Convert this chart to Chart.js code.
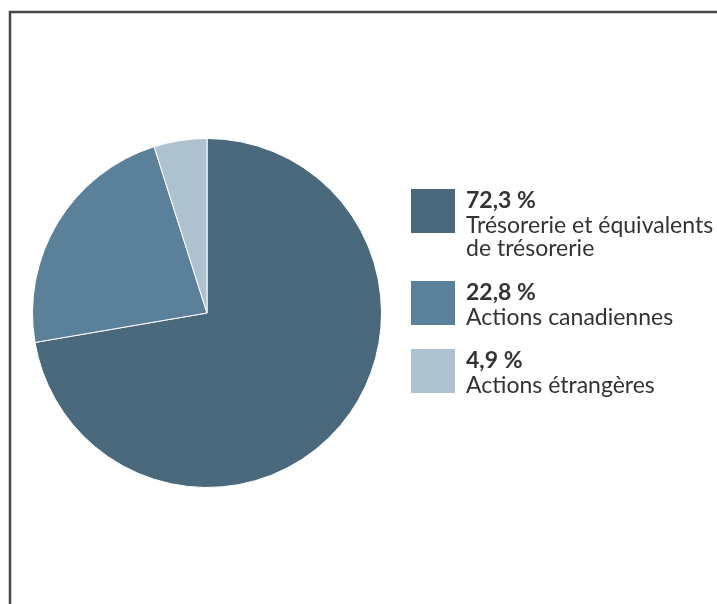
<!DOCTYPE html>
<html lang="fr">
<head>
<meta charset="UTF-8">
<title>Répartition</title>
<script src="https://cdn.jsdelivr.net/npm/chart.js@4"></script>
<style>
  html, body { margin: 0; padding: 0; background: #fff; }
  #wrap { width: 717px; height: 604px; }
</style>
</head>
<body>
<div id="wrap"><canvas id="myChart" width="717" height="604"></canvas></div>
<script>
    // données
    const labels = ['Trésorerie et équivalents|de trésorerie', 'Actions canadiennes', 'Actions étrangères'];
    const values = [72.3, 22.8, 4.9];
    const valueLabels = ['72,3 %', '22,8 %', '4,9 %'];
    const colors = ['#4a697d', '#5b8099', '#adc1cf'];

    // cadre gris en haut et à gauche
    const framePlugin = {
        id: 'frame',
        beforeDraw(chart) {
            const ctx = chart.ctx;
            ctx.save();
            ctx.strokeStyle = '#474747';
            ctx.lineWidth = 2.5;
            ctx.beginPath();
            ctx.moveTo(10, 604);
            ctx.lineTo(10, 12);
            ctx.lineTo(717, 12);
            ctx.stroke();
            ctx.restore();
        }
    };

    // légende dessinée à droite
    const legendPlugin = {
        id: 'sideLegend',
        afterDraw(chart) {
            const ctx = chart.ctx;
            const tops = [208, 300, 368];
            ctx.save();
            labels.forEach((lab, i) => {
                const lines = lab.split('|');
                const base = tops[i];
                const boxBottom = base + 25;
                ctx.fillStyle = colors[i];
                ctx.fillRect(411, boxBottom - 44, 44, 44);
                ctx.fillStyle = '#333333';
                ctx.textBaseline = 'alphabetic';
                ctx.font = 'bold 23px Lato';
                ctx.fillText(valueLabels[i], 466, base);
                ctx.font = '23px Lato';
                lines.forEach((l, j) => {
                    ctx.fillText(l, 466, base + 25 + j * 23);
                });
            });
            ctx.restore();
        }
    };

    const config = {
        type: 'pie',
        data: {
            labels: labels,
            datasets: [{
                data: values,
                backgroundColor: colors,
                borderColor: '#ffffff',
                borderWidth: 1
            }]
        },
        options: {
            responsive: false,
            animation: false,
            layout: { padding: { left: 32, right: 335, top: 138, bottom: 116 } },
            plugins: {
                legend: { display: false },
                tooltip: { enabled: false }
            }
        },
        plugins: [framePlugin, legendPlugin]
    };

    var myChart = new Chart(document.getElementById('myChart'), config);
</script>
</body>
</html>
